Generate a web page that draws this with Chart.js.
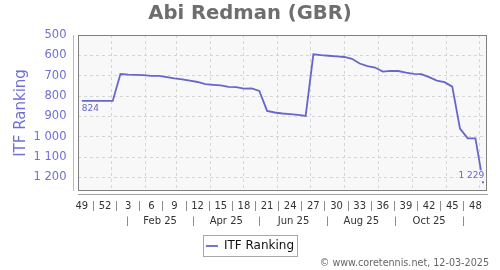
<!DOCTYPE html>
<html>
<head>
<meta charset="utf-8">
<script src="https://cdn.jsdelivr.net/npm/chart.js@4.4.1/dist/chart.umd.min.js"></script>
<style>
  html, body { margin: 0; padding: 0; background: #fff; }
  #wrap { width: 500px; height: 270px; }
</style>
</head>
<body>
<div id="wrap"><canvas id="c" width="500" height="270"></canvas></div>
<script>
// ---- data ----
const playerName = 'Abi Redman (GBR)';
const seriesLabel = 'ITF Ranking';
const footerText = '© www.coretennis.net, 12-03-2025';
const firstWeek = '2024-12-02';   // Monday of week 49/2024, left edge of the axis
const axisEnd = '2025-12-08';

// weekly ranking, one per week from week 49/2024 to week 49/2025
const rankings = [
  824, 824, 824, 824, 824,
  692, 695, 696, 697, 701, 701, 707, 713, 718, 724, 731, 742, 745, 748, 755, 756, 764, 763, 775,
  873, 881, 886, 889, 893, 898,
  595, 599, 602, 605, 608, 617, 640, 653, 660, 680, 676, 677, 685, 691, 692, 707, 724, 732, 754,
  960, 1008, 1008,
  1229
];

const weekLabels = ['49', '52', '3', '6', '9', '12', '15', '18', '21', '24', '27', '30', '33', '36', '39', '42', '45', '48'];
const monthLabels = ['Feb 25', 'Apr 25', 'Jun 25', 'Aug 25', 'Oct 25'];
const monthBands = ['2025-01-16', '2025-03-16', '2025-05-16', '2025-07-16', '2025-09-16', '2025-11-16'];
const gridDates = ['2025-01-01', '2025-02-01', '2025-03-01', '2025-04-01', '2025-05-01', '2025-06-01',
  '2025-07-01', '2025-08-01', '2025-09-01', '2025-10-01', '2025-11-01', '2025-12-01'];
const yTicks = [500, 600, 700, 800, 900, 1000, 1100, 1200];
const yMin = 500, yMax = 1267;

// ---- helpers ----
const lineColor = '#6666cc';
const purple = '#6f6fd6';
const plotBg = '#f8f8f8';
function day(s) { return (Date.parse(s) - Date.parse(firstWeek)) / 864e5; }
function fmt(v) { return String(v).replace(/\B(?=(\d{3})+(?!\d))/g, ' '); }

// each week plotted at its middle
const points = rankings.map((r, i) => ({ x: i * 7 + 3.5, y: r }));
const weekPos = weekLabels.map((w, k) => k * 21 + 3.5);
const monthPos = monthLabels.map((m, k) => (day(monthBands[k]) + day(monthBands[k + 1])) / 2);

Chart.defaults.font.family = "'DejaVu Sans', sans-serif";

const frame = {
  id: 'frame',
  afterLayout(chart) {
    // footer sits a little in from the right edge
    const foot = chart.boxes.find(b => b.options && b.options.text === footerText);
    if (foot) { foot.left -= 11; foot.right -= 11; }
  },
  beforeDraw(chart) {
    const { ctx, chartArea: a } = chart;
    ctx.save();
    ctx.fillStyle = plotBg;
    ctx.fillRect(a.left, a.top, a.width, a.height);
    ctx.restore();
  },
  afterDraw(chart) {
    const { ctx, chartArea: a } = chart;
    ctx.save();
    ctx.strokeStyle = '#808080';
    ctx.lineWidth = 1;
    ctx.strokeRect(Math.round(a.left) + 0.5, Math.round(a.top) + 0.5,
      Math.round(a.width) - 1, Math.round(a.height) - 1);
    // detached y axis line
    ctx.strokeStyle = '#b4b4e4';
    ctx.beginPath();
    ctx.moveTo(Math.round(a.left) - 4.5, a.top);
    ctx.lineTo(Math.round(a.left) - 4.5, a.bottom);
    ctx.stroke();
    // legend frame
    const hb = chart.legend.legendHitBoxes[0];
    if (hb) {
      ctx.strokeStyle = '#a8a8a8';
      const cy = hb.top + hb.height / 2;
      ctx.strokeRect(Math.round(hb.left - 3) + 0.5, Math.round(cy - 10.5) + 0.5, Math.round(hb.width + 6), 21);
    }
    ctx.restore();
  },
  afterDatasetsDraw(chart) {
    const { ctx, scales: { x, y } } = chart;
    const a = points[0], b = points[points.length - 1];
    ctx.save();
    ctx.font = "9px 'DejaVu Sans'";
    ctx.textBaseline = 'middle';
    // first value, under the start of the line
    ctx.fillStyle = lineColor;
    ctx.textAlign = 'left';
    ctx.fillText(fmt(a.y), x.getPixelForValue(a.x), y.getPixelForValue(a.y) + 8);
    // last value, above-left of the end point, on a plot-coloured patch
    const t = fmt(b.y);
    const bx = x.getPixelForValue(b.x) + 1, by = y.getPixelForValue(b.y) - 7.5;
    const w = ctx.measureText(t).width;
    ctx.fillStyle = plotBg;
    ctx.fillRect(bx - w - 1, by - 5.5, w + 2, 11);
    ctx.fillStyle = lineColor;
    ctx.textAlign = 'right';
    ctx.fillText(t, bx, by);
    ctx.restore();
  }
};

const sepColor = c => c.type === 'tick' ? '#8c8c8c' : 'rgba(0,0,0,0)';

new Chart(document.getElementById('c'), {
  type: 'line',
  data: {
    datasets: [{
      label: seriesLabel,
      data: points,
      borderColor: lineColor,
      backgroundColor: lineColor,
      borderWidth: 1.8,
      pointRadius: 0,
      tension: 0
    }]
  },
  options: {
    responsive: false,
    animation: false,
    devicePixelRatio: 1,
    layout: { padding: 0 },
    plugins: {
      title: {
        display: true, text: playerName, color: '#6e6e6e',
        font: { size: 19.6, weight: 'bold' },
        padding: { top: 2.2, bottom: 9.3 }
      },
      subtitle: {
        display: true, text: footerText, position: 'bottom', align: 'end', color: '#666',
        font: { size: 9.6 },
        padding: { top: -4, bottom: 0.5 }
      },
      legend: {
        position: 'bottom',
        labels: {
          color: '#111', font: { size: 12 },
          usePointStyle: true, pointStyle: 'line', pointStyleWidth: 12,
          padding: 8
        }
      },
      tooltip: { enabled: false }
    },
    scales: {
      x: {
        type: 'linear', min: 0, max: day(axisEnd),
        afterBuildTicks: s => { s.ticks = gridDates.map(d => ({ value: day(d) })); },
        afterFit: s => { s.height = 4; },
        ticks: { display: false },
        grid: { color: '#d6d6d6', drawTicks: false },
        border: { display: false, dash: [3, 3] }
      },
      xw: {
        axis: 'x', type: 'linear', position: 'bottom', min: 0, max: day(axisEnd),
        afterBuildTicks: s => { s.ticks = weekPos.map(v => ({ value: v })); },
        afterFit: s => { s.height = 17; },
        ticks: {
          autoSkip: false, maxRotation: 0, color: '#333', font: { size: 10 }, padding: -11,
          callback: (v, i) => weekLabels[i]
        },
        grid: {
          drawOnChartArea: false, drawTicks: true, offset: true, tickLength: 16,
          tickColor: sepColor, tickWidth: 1, tickBorderDash: [0, 6, 10, 100]
        },
        border: { display: true, color: '#a0a0a0' }
      },
      xm: {
        axis: 'x', type: 'linear', position: 'bottom', min: 0, max: day(axisEnd),
        afterBuildTicks: s => { s.ticks = monthPos.map(v => ({ value: v })); },
        afterFit: s => { s.height = 20; },
        ticks: {
          autoSkip: false, maxRotation: 0, color: '#333', font: { size: 10 }, padding: -12,
          callback: (v, i) => monthLabels[i]
        },
        grid: {
          drawOnChartArea: false, drawTicks: true, offset: true, tickLength: 15,
          tickColor: '#8c8c8c', tickWidth: 1, tickBorderDash: [0, 4.5, 9.5, 100]
        },
        border: { display: false }
      },
      y: {
        type: 'linear', reverse: true, min: yMin, max: yMax,
        afterBuildTicks: s => { s.ticks = yTicks.map(v => ({ value: v })); },
        afterFit: s => { s.width = 78; },
        title: {
          display: true, text: seriesLabel, color: purple,
          font: { size: 15 }, padding: { top: 12, bottom: 0 }
        },
        ticks: { color: purple, font: { size: 11.5 }, padding: 11.5, callback: v => fmt(v) },
        grid: { color: '#d6d6d6', drawTicks: false },
        border: { display: false, dash: [3, 3] }
      },
      // empty right gutter so the plot stops short of the edge
      yr: {
        axis: 'y', type: 'linear', position: 'right', min: yMin, max: yMax,
        afterFit: s => { s.width = 13; },
        ticks: { display: false },
        grid: { display: false },
        border: { display: false }
      }
    }
  },
  plugins: [frame]
});
</script>
</body>
</html>
